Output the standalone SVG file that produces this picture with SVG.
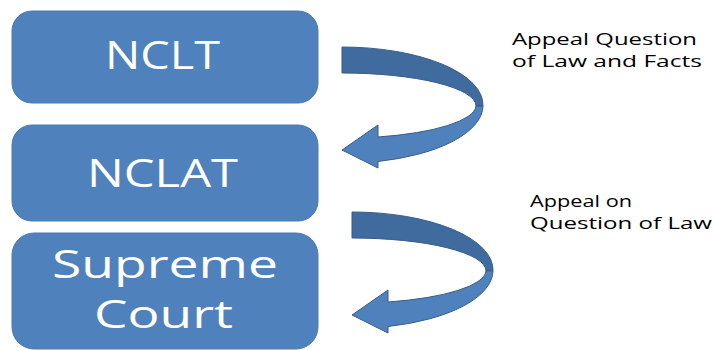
<svg xmlns="http://www.w3.org/2000/svg" xmlns:xlink="http://www.w3.org/1999/xlink" width="714" height="350" viewBox="0 0 714 350">
<style>
.box{fill:#4f81bd;stroke:#4a7ab3;stroke-width:1}
.bt{font-family:"Open Sans","DejaVu Sans",sans-serif;font-size:38px;fill:#ffffff}
.lbl{font-family:"Open Sans","DejaVu Sans",sans-serif;font-size:16.5px;fill:#000000}
.back{fill:#3f6b9e;stroke:#385d8a;stroke-width:1}
.front{fill:#4f81bd;stroke:#385d8a;stroke-width:1}
</style>
<defs>
<g id="curvedArrow">
<path class="back" d="M342,47 A141,58 0 0 1 483,106 L476,106 A134,33 0 0 0 342,73 Z"/>
<path class="front" d="M483,106 A141,58 0 0 1 378,161.5 L378,168 L342,150 L378,125 L378,137 A134,33 0 0 0 476,106 Z"/>
</g>
</defs>
<rect width="714" height="350" fill="#ffffff"/>
<g id="nclt">
<rect class="box" x="12" y="11" width="306" height="92" rx="20"/>
<text class="bt" x="105" y="69" textLength="115" lengthAdjust="spacingAndGlyphs">NCLT</text>
</g>
<g id="nclat">
<rect class="box" x="12" y="125" width="306" height="96" rx="20"/>
<text class="bt" x="87" y="187" textLength="151" lengthAdjust="spacingAndGlyphs">NCLAT</text>
</g>
<g id="supreme">
<rect class="box" x="12" y="233" width="306" height="116" rx="22"/>
<text class="bt" x="52" y="278" textLength="226" lengthAdjust="spacingAndGlyphs">Supreme</text>
<text class="bt" x="94" y="328" textLength="139" lengthAdjust="spacingAndGlyphs">Court</text>
</g>
<g id="connectors">
<use xlink:href="#curvedArrow"/>
<use xlink:href="#curvedArrow" transform="translate(10,165)"/>
</g>
<g id="labels">
<text class="lbl" x="512" y="45" textLength="185" lengthAdjust="spacingAndGlyphs">Appeal Question</text>
<text class="lbl" x="512" y="67" textLength="190" lengthAdjust="spacingAndGlyphs">of Law and Facts</text>
<text class="lbl" x="530" y="207" textLength="102" lengthAdjust="spacingAndGlyphs">Appeal on</text>
<text class="lbl" x="530" y="229" textLength="182" lengthAdjust="spacingAndGlyphs">Question of Law</text>
</g>
</svg>
